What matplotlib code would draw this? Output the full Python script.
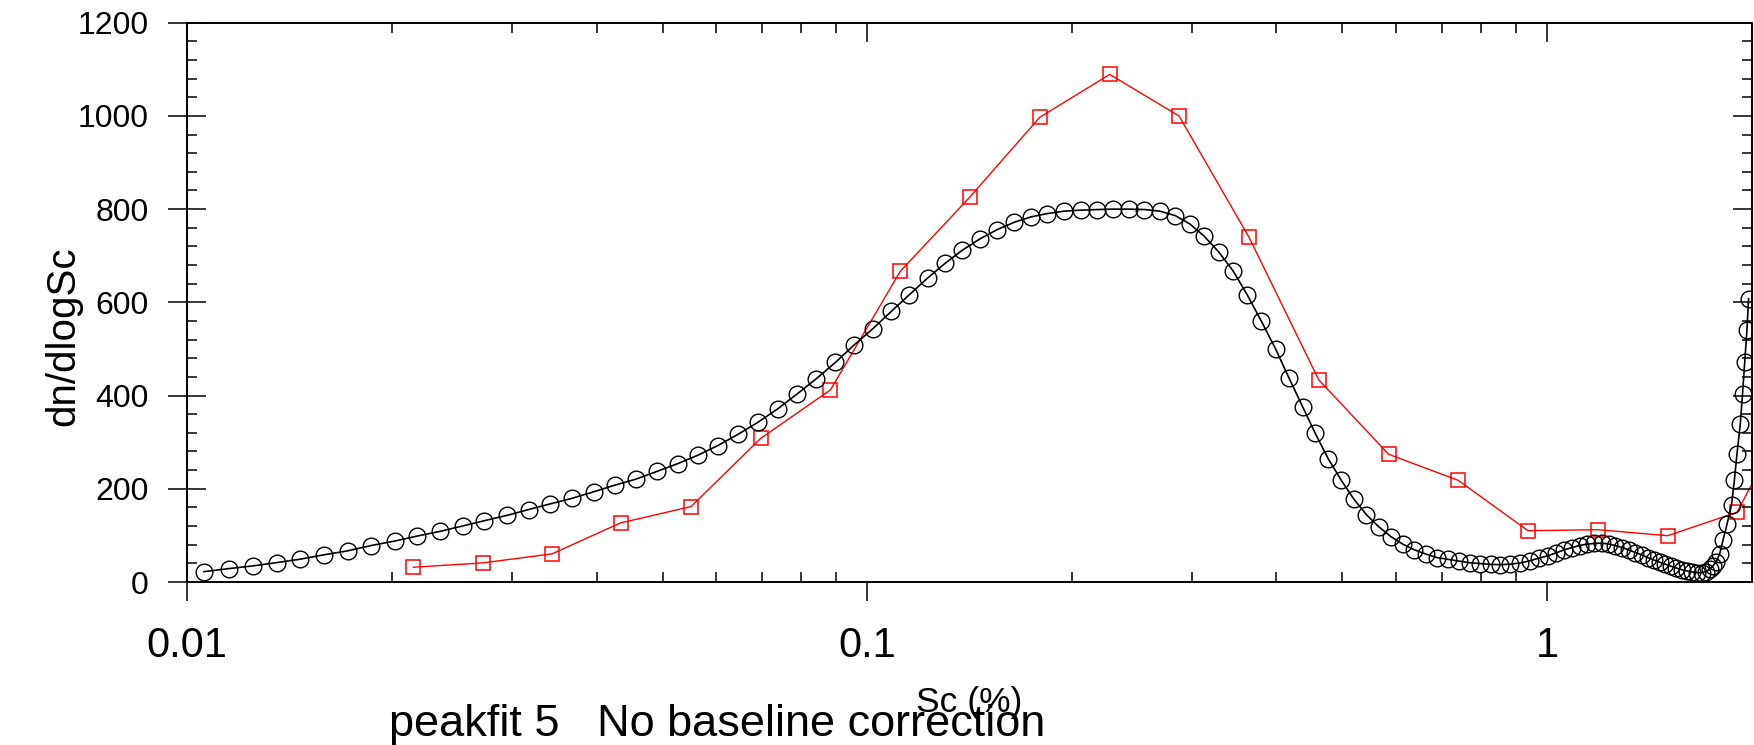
import numpy as np
import matplotlib
matplotlib.use('Agg')
import matplotlib.pyplot as plt
from matplotlib.ticker import FixedLocator, LogLocator, MultipleLocator, FuncFormatter, NullFormatter

plt.rcParams['font.family'] = ['Liberation Sans', 'DejaVu Sans']

# fitted distribution (black circles)
sc_fit = np.array([
    0.01058, 0.0115, 0.01248, 0.01353, 0.01467, 0.01588, 0.01722, 0.01865, 0.02018, 0.02179,
    0.02352, 0.02541, 0.02736, 0.02956, 0.03176, 0.03421, 0.03686, 0.03962, 0.04254, 0.04573,
    0.0491, 0.05265, 0.05635, 0.06031, 0.06453, 0.06905, 0.07382, 0.0788, 0.08414, 0.08981,
    0.09556, 0.1019, 0.1085, 0.1153, 0.1227, 0.1302, 0.1381, 0.1464, 0.1553, 0.1646,
    0.1742, 0.1841, 0.1950, 0.2061, 0.2179, 0.2298, 0.2425, 0.2558, 0.2694, 0.2838,
    0.2982, 0.3126, 0.3289, 0.3453, 0.3624, 0.3800, 0.3988, 0.4174, 0.4370, 0.4562,
    0.4768, 0.4983, 0.5194, 0.5423, 0.5653, 0.5896, 0.6132, 0.6380, 0.6638, 0.6890,
    0.7151, 0.7418, 0.7693, 0.7978, 0.8267, 0.8536, 0.8831, 0.9136, 0.9428, 0.9720,
    1.002, 1.032, 1.060, 1.089, 1.117, 1.145, 1.174, 1.203, 1.232, 1.260,
    1.289, 1.318, 1.348, 1.378, 1.406, 1.435, 1.464, 1.493, 1.522, 1.549,
    1.577, 1.607, 1.634, 1.662, 1.688, 1.713, 1.734, 1.754, 1.774, 1.794,
    1.815, 1.840, 1.868, 1.886, 1.903, 1.924, 1.939, 1.953, 1.968, 1.979])
dn_fit = np.array([
    22.2, 28.7, 34.5, 41.6, 49.0, 58.3, 66.9, 78.3, 87.8, 98.6,
    108.5, 120.2, 131.6, 143.1, 155.4, 167.7, 179.8, 193.6, 207.8, 220.8,
    237.4, 254.0, 271.9, 292.8, 316.6, 342.5, 371.2, 402.9, 435.9, 471.1,
    507.8, 543.2, 580.5, 616.1, 652.1, 683.7, 712.1, 735.9, 756.0, 771.9,
    783.4, 790.5, 795.7, 797.8, 799.1, 800.0, 800.0, 799.1, 795.7, 786.2,
    768.2, 743.0, 708.3, 667.5, 615.7, 559.6, 500.0, 437.4, 376.1, 318.7,
    263.9, 218.0, 178.5, 144.6, 118.7, 97.1, 81.4, 69.1, 59.8, 52.4,
    48.6, 44.9, 41.4, 39.5, 37.8, 37.1, 38.2, 41.0, 45.3, 51.1,
    56.1, 62.6, 69.1, 74.0, 78.3, 81.4, 82.7, 83.5, 81.4, 78.3,
    74.0, 69.1, 63.2, 58.3, 52.4, 47.5, 42.5, 38.2, 33.9, 30.2,
    26.5, 23.7, 21.6, 20.1, 20.1, 22.2, 27.4, 34.5, 43.8, 59.8,
    90.0, 124.5, 166.2, 218.0, 275.6, 338.2, 403.5, 471.1, 540.1, 607.9])

# measured bins (red squares)
sc_bin = [0.0215, 0.02721, 0.0344, 0.04337, 0.0551, 0.06969, 0.08831, 0.1119, 0.1416, 0.1794,
          0.2274, 0.2876, 0.3645, 0.4615, 0.5848, 0.7405, 0.9377, 1.1885, 1.504, 1.903, 2.41]
dn_bin = [31.7, 41.0, 60.4, 126.7, 161.9, 307.9, 412.2, 666.8, 825.9, 997.0,
          1089.0, 999.8, 739.5, 433.8, 274.0, 218.0, 110.0, 112.2, 99.3, 149.6, 433.0]

x_ticks = [0.01, 0.1, 1]
xlim = (0.01, 2.0)
ylim = (0, 1200)

W, H = 1754, 745
fig = plt.figure(figsize=(W / 100, H / 100), dpi=100)
ax = fig.add_axes([187.3 / W, 1 - 582 / H, (1751.7 - 187.3) / W, (582 - 22.7) / H])

ax.plot(sc_bin, dn_bin, color='red', lw=1.0, marker='s', ms=10.3, mfc='none', mec='red', mew=1.1)
ax.plot(sc_fit, dn_fit, color='black', lw=1.2, marker='o', ms=12, mfc='none', mec='black', mew=1.0)

ax.set_xscale('log')
ax.set_xlim(*xlim)
ax.set_ylim(*ylim)

fmt = FuncFormatter(lambda v, p: f'{v:g}')
ax.xaxis.set_major_locator(FixedLocator(x_ticks))
ax.xaxis.set_major_formatter(fmt)
ax.xaxis.set_minor_locator(LogLocator(base=10, subs=np.arange(2, 10)))
ax.xaxis.set_minor_formatter(NullFormatter())
ax.yaxis.set_major_locator(MultipleLocator(200))
ax.yaxis.set_minor_locator(MultipleLocator(40))

ax.tick_params(axis='x', which='major', direction='out', length=13.7, width=1.1, pad=18, labelsize=30)
ax.tick_params(axis='x', which='minor', direction='in', length=7, width=1.1)
ax.tick_params(axis='y', which='major', direction='inout', length=27.4, width=1.1, pad=13.9, labelsize=23)
ax.tick_params(axis='y', which='minor', direction='in', length=7, width=1.1)
for s in ax.spines.values():
    s.set_linewidth(1.4)

# ticks on top and right point inward
axt = ax.twiny()
axt.set_xscale('log')
axt.set_xlim(*xlim)
axt.xaxis.set_major_locator(FixedLocator(x_ticks))
axt.xaxis.set_minor_locator(LogLocator(base=10, subs=np.arange(2, 10)))
axt.xaxis.set_minor_formatter(NullFormatter())
axt.tick_params(axis='x', which='major', direction='in', length=13.7, width=1.1, labeltop=False)
axt.tick_params(axis='x', which='minor', direction='in', length=7, width=1.1)
axr = ax.twinx()
axr.set_ylim(*ylim)
axr.yaxis.set_major_locator(MultipleLocator(200))
axr.yaxis.set_minor_locator(MultipleLocator(40))
axr.tick_params(axis='y', which='major', direction='in', length=13.7, width=1.1, labelright=False)
axr.tick_params(axis='y', which='minor', direction='in', length=7, width=1.1)
for a in (axt, axr):
    for s in a.spines.values():
        s.set_visible(False)

ax.set_xlabel('Sc (%)', fontsize=25.5, va='top')
ax.xaxis.set_label_coords(0.5, -0.186)
ax.set_ylabel('dn/dlogSc', fontsize=29)
ax.yaxis.set_label_coords(-0.067, 0.44)

fig.text(389 / W, 1 - 736 / H, 'peakfit 5   No baseline correction', fontsize=32.5,
         ha='left', va='baseline')

fig.savefig('out.png', dpi=100)
